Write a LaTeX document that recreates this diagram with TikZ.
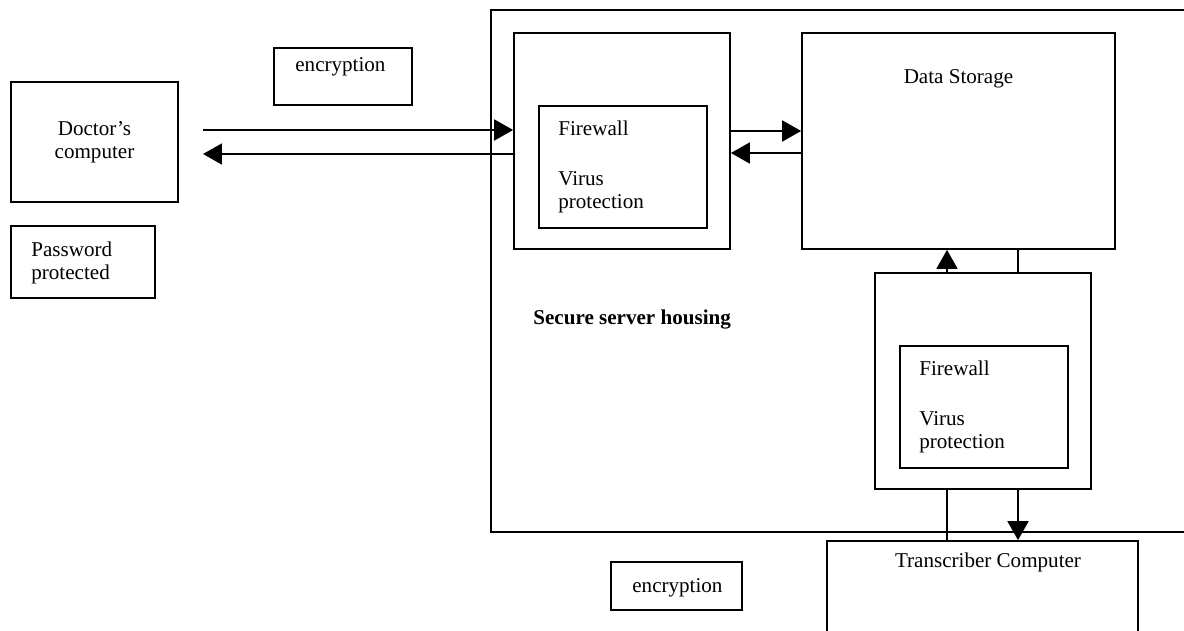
\documentclass[tikz,border=0pt]{standalone}
\usepackage{fontspec}
\setmainfont{Liberation Serif}
\usepackage{tikz}
\usetikzlibrary{arrows.meta}
\pgfdeclarelayer{nodelayer}
\pgfdeclarelayer{edgelayer}
\pgfsetlayers{nodelayer,edgelayer,main}
\tikzset{
    none/.style = {inner sep=0pt},
    box/.style = {draw, line width=1pt, inner sep=0pt},
    label/.style = {inner sep=0pt, font=\fontsize{12}{13}\selectfont},
    link/.style = {line width=1pt},
    arrow/.style = {link, -{Triangle[length=0.38cm, width=0.42cm]}}
}
\begin{document}
\begin{tikzpicture}[x=0.02cm, y=-0.02cm]
    \useasboundingbox (0, 0) rectangle (1184, 631);
    \begin{pgfonlayer}{nodelayer}
        % boxes
        \node [style=box, minimum width=3.34cm, minimum height=2.4cm] (0) at (94.5, 142) {};
        \node [style=box, minimum width=2.88cm, minimum height=1.44cm] (1) at (83, 262) {};
        \node [style=box, minimum width=2.76cm, minimum height=1.14cm] (2) at (343, 76.5) {};
        \node [style=box, minimum width=2.62cm, minimum height=0.96cm] (3) at (676.5, 586) {};
        \node [style=box, minimum width=14.18cm, minimum height=10.44cm] (4) at (845.5, 271) {};
        \node [style=box, minimum width=4.32cm, minimum height=4.32cm] (5) at (622, 141) {};
        \node [style=box, minimum width=3.36cm, minimum height=2.44cm] (6) at (623, 167) {};
        \node [style=box, minimum width=6.26cm, minimum height=4.32cm] (7) at (958.5, 141) {};
        \node [style=box, minimum width=4.32cm, minimum height=4.32cm] (8) at (983, 381) {};
        \node [style=box, minimum width=3.36cm, minimum height=2.44cm] (9) at (984, 407) {};
        \node [style=box, minimum width=6.22cm, minimum height=2.38cm] (10) at (982.5, 600.5) {};
        % texts
        \node [style=label, anchor=north, align=center] (11) at (94.5, 121) {Doctor’s\\computer};
        \node [style=label, anchor=north west, align=left] (12) at (31, 242) {Password\\protected};
        \node [style=label, anchor=base west] (13) at (295, 72) {encryption};
        \node [style=label, anchor=base west] (14) at (632, 592) {encryption};
        \node [style=label, anchor=north west, align=left] (15) at (558, 121) {Firewall\\[0.54cm]Virus\\protection};
        \node [style=label, anchor=north west, align=left] (16) at (919, 361) {Firewall\\[0.54cm]Virus\\protection};
        \node [style=label, anchor=base] (17) at (958.5, 84) {Data Storage};
        \node [style=label, anchor=base west, font=\fontsize{12}{13}\selectfont\bfseries] (18) at (533, 325) {Secure server housing};
        \node [style=label, anchor=base] (19) at (988, 567) {Transcriber Computer};
        % connector ends
        \node [style=none] (20) at (203, 130) {};
        \node [style=none] (21) at (203, 154) {};
        \node [style=none] (22) at (766, 131) {};
        \node [style=none] (23) at (766, 153) {};
        \node [style=none] (24) at (947, 261) {};
        \node [style=none] (25) at (1018, 261) {};
        \node [style=none] (26) at (947, 515) {};
        \node [style=none] (27) at (1018, 515) {};
    \end{pgfonlayer}
    \begin{pgfonlayer}{edgelayer}
        % doctor to server
        \draw [style=arrow] (20.center) to (20 -| 5.west);
        \draw [style=arrow] (21 -| 5.west) to (21.center);
        % firewall to storage
        \draw [style=arrow] (22 -| 5.east) to (22 -| 7.west);
        \draw [style=arrow] (23 -| 7.west) to (23 -| 5.east);
        % storage to second firewall
        \draw [style=arrow] (24 |- 8.north) to (24 |- 7.south);
        \draw [style=link] (25 |- 7.south) to (25 |- 8.north);
        % second firewall to transcriber
        \draw [style=link] (26 |- 8.south) to (26 |- 10.north);
        \draw [style=arrow] (27 |- 8.south) to (27 |- 10.north);
    \end{pgfonlayer}
\end{tikzpicture}
\end{document}
